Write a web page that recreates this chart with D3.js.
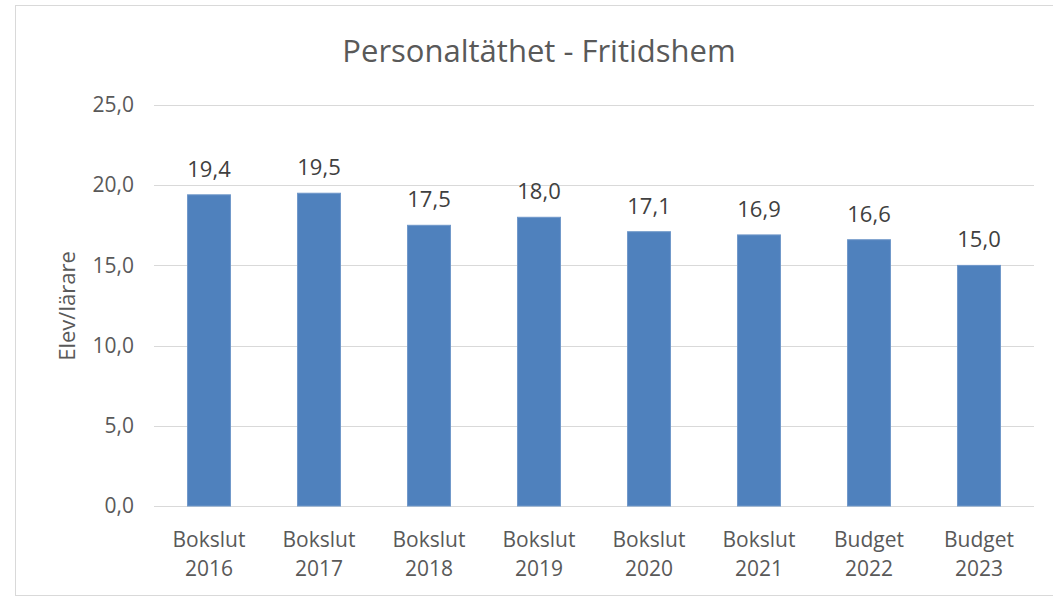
<!DOCTYPE html>
<meta charset="utf-8">
<html>
    <head>
        <style type="text/css">
            body { margin:0; background:#fff; }
            svg { display:block; }
            .graphText { font-family: "Open Sans", "Liberation Sans", sans-serif; }
        </style>
        <script src="https://d3js.org/d3.v7.min.js"></script>
    </head>
    <body>
        <svg width="1053" height="597"></svg>
        <script type="text/javascript">
            // data
            var categories = ["Bokslut 2016", "Bokslut 2017", "Bokslut 2018", "Bokslut 2019",
                              "Bokslut 2020", "Bokslut 2021", "Budget 2022", "Budget 2023"];
            var values = [19.4, 19.5, 17.5, 18.0, 17.1, 16.9, 16.6, 15.0];
            var yTicks = [0, 5, 10, 15, 20, 25];

            var width = 1053, height = 597;
            var margin = {top: 105, bottom: 91, left: 154, right: 19};
            var fmt = d => d3.format(".1f")(d).replace(".", ",");

            var svg = d3.select("svg");

            // outer chart border
            svg.append("rect")
                .attr("x", 15.5).attr("y", 5.5)
                .attr("width", width + 10).attr("height", 590)
                .attr("fill", "#fff")
                .attr("stroke", "#d9d9d9");

            var xScale = d3.scaleBand()
                .domain(categories)
                .range([margin.left, width - margin.right])
                .paddingInner(0.61)
                .paddingOuter(0.305);

            var yScale = d3.scaleLinear()
                .domain([0, 25])
                .range([height - margin.bottom, margin.top]);

            // gridlines
            svg.append("g").selectAll("line")
                .data(yTicks)
                .enter().append("line")
                .attr("x1", margin.left)
                .attr("x2", width - margin.right)
                .attr("y1", d => Math.round(yScale(d)) + 0.5)
                .attr("y2", d => Math.round(yScale(d)) + 0.5)
                .attr("stroke", "#d9d9d9");

            // y axis labels
            var yAxis = d3.axisLeft(yScale)
                .tickValues(yTicks)
                .tickFormat(fmt)
                .tickSize(0)
                .tickPadding(20);

            var gy = svg.append("g")
                .attr("class", "graphText")
                .attr("transform", "translate(" + [margin.left, 0] + ")")
                .call(yAxis);
            gy.select(".domain").remove();
            gy.selectAll("text")
                .attr("font-size", 21)
                .attr("fill", "#595959")
                .attr("font-family", null);

            // bars
            svg.selectAll("rect.bar")
                .data(values)
                .enter().append("rect")
                .attr("class", "bar")
                .attr("x", (d, i) => xScale(categories[i]))
                .attr("y", d => yScale(d))
                .attr("width", xScale.bandwidth())
                .attr("height", d => yScale(0) - yScale(d))
                .attr("fill", "#4f81bd")
                .attr("stroke", "#6f97c9")
                .attr("stroke-width", 1);

            // data labels
            svg.selectAll("text.val")
                .data(values)
                .enter().append("text")
                .attr("class", "val graphText")
                .attr("x", (d, i) => xScale(categories[i]) + xScale.bandwidth() / 2)
                .attr("y", d => yScale(d) - 18)
                .attr("text-anchor", "middle")
                .attr("font-size", 22)
                .attr("fill", "#404040")
                .text(fmt);

            // x labels, two lines
            var xl = svg.selectAll("text.xl")
                .data(categories)
                .enter().append("text")
                .attr("class", "xl graphText")
                .attr("text-anchor", "middle")
                .attr("font-size", 21)
                .attr("fill", "#595959");
            xl.append("tspan")
                .attr("x", d => xScale(d) + xScale.bandwidth() / 2)
                .attr("y", 547)
                .text(d => d.split(" ")[0]);
            xl.append("tspan")
                .attr("x", d => xScale(d) + xScale.bandwidth() / 2)
                .attr("y", 576)
                .text(d => d.split(" ")[1]);

            // y axis title
            svg.append("text")
                .attr("class", "graphText")
                .attr("transform", "translate(75,306) rotate(-90)")
                .attr("text-anchor", "middle")
                .attr("font-size", 22)
                .attr("fill", "#595959")
                .text("Elev/lärare");

            // title
            svg.append("text")
                .attr("class", "graphText")
                .attr("x", 539)
                .attr("y", 62)
                .attr("text-anchor", "middle")
                .attr("font-size", 31)
                .attr("fill", "#595959")
                .text("Personaltäthet - Fritidshem");
        </script>
    </body>
</html>
